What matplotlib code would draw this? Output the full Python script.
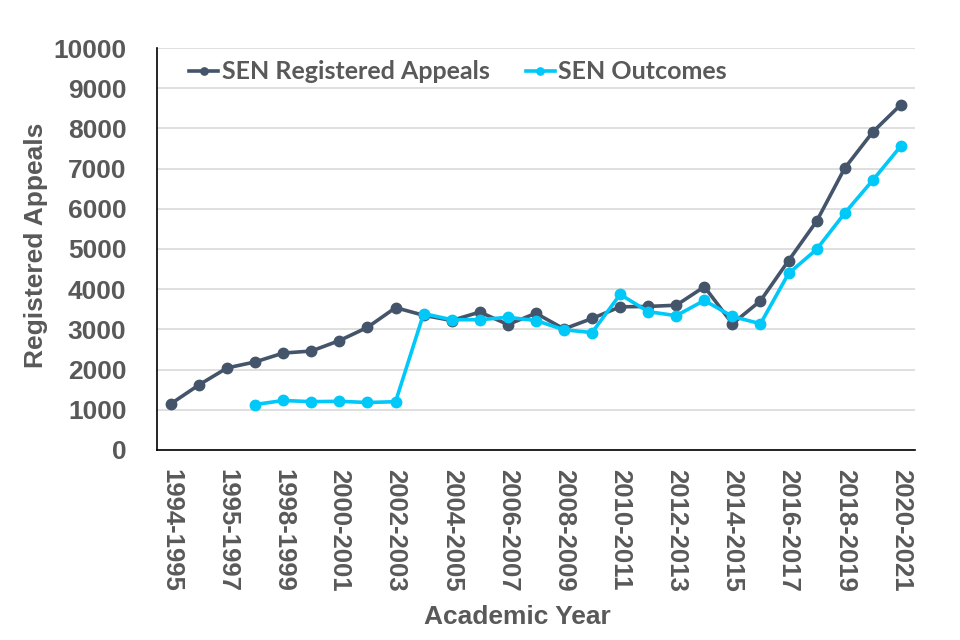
import numpy as np
import matplotlib
matplotlib.use("Agg")
import matplotlib.pyplot as plt

years = ["1994-1995", "1995-1996", "1995-1997", "1997-1998", "1998-1999",
         "1999-2000", "2000-2001", "2001-2002", "2002-2003", "2003-2004",
         "2004-2005", "2005-2006", "2006-2007", "2007-2008", "2008-2009",
         "2009-2010", "2010-2011", "2011-2012", "2012-2013", "2013-2014",
         "2014-2015", "2015-2016", "2016-2017", "2017-2018", "2018-2019",
         "2019-2020", "2020-2021"]
registered = [1150, 1620, 2040, 2190, 2410, 2460, 2720, 3050, 3540, 3350,
              3220, 3430, 3120, 3400, 3010, 3270, 3560, 3570, 3600, 4060,
              3140, 3710, 4710, 5690, 7010, 7910, 8590]
outcomes = [np.nan, np.nan, np.nan, 1130, 1230, 1200, 1210, 1180, 1200, 3390,
            3240, 3240, 3300, 3220, 2990, 2920, 3870, 3440, 3340, 3720,
            3320, 3140, 4390, 4990, 5890, 6710, 7560]

dark = "#44546A"
cyan = "#00C8F8"
grey = "#595959"

fig = plt.figure(figsize=(9.6, 6.4), dpi=100)
ax = fig.add_axes([0.1635, 0.297, 0.7895, 0.628])

x = np.arange(len(years))
ax.plot(x, registered, color=dark, linewidth=2.6, marker="o", markersize=7.5,
        label="SEN Registered Appeals", zorder=3)
ax.plot(x, outcomes, color=cyan, linewidth=2.6, marker="o", markersize=7.5,
        label="SEN Outcomes", zorder=4)

ax.set_xlim(-0.5, len(years) - 0.5)
ax.set_ylim(0, 10000)
ax.set_yticks(np.arange(0, 10001, 1000))
ax.set_xticks(x[::2])
ax.set_xticklabels(years[::2], rotation=-90, va="top", ha="center")

ax.tick_params(axis="both", length=0, labelcolor=grey)
ax.tick_params(axis="x", pad=14, labelsize=18.5)
ax.tick_params(axis="y", pad=22, labelsize=19)
for lab in ax.get_xticklabels() + ax.get_yticklabels():
    lab.set_fontfamily("Liberation Sans")
    lab.set_fontweight("bold")

ax.grid(axis="y", color="#D9D9D9", linewidth=1.2)
ax.set_axisbelow(True)
for s in ["top", "right"]:
    ax.spines[s].set_visible(False)
ax.spines["left"].set_color("black")
ax.spines["bottom"].set_color("black")
ax.spines["left"].set_linewidth(1.2)
ax.spines["bottom"].set_linewidth(1.2)

fig.text(0.037, 0.617, "Registered Appeals", rotation=90, ha="center", va="center",
         fontsize=19, fontweight="bold", color=grey, family="Liberation Sans")
fig.text(0.539, 0.036, "Academic Year", ha="center", va="center",
         fontsize=19, fontweight="bold", color=grey, family="Liberation Sans")

leg = ax.legend(loc="upper left", bbox_to_anchor=(0.013, 1.025), ncol=2, frameon=False,
                handlelength=1.15, handletextpad=0.15, columnspacing=1.45,
                markerscale=0.7, prop={"family": "Lato", "size": 18, "weight": "bold"})
for t in leg.get_texts():
    t.set_color(grey)

fig.savefig("out.png", dpi=100)
